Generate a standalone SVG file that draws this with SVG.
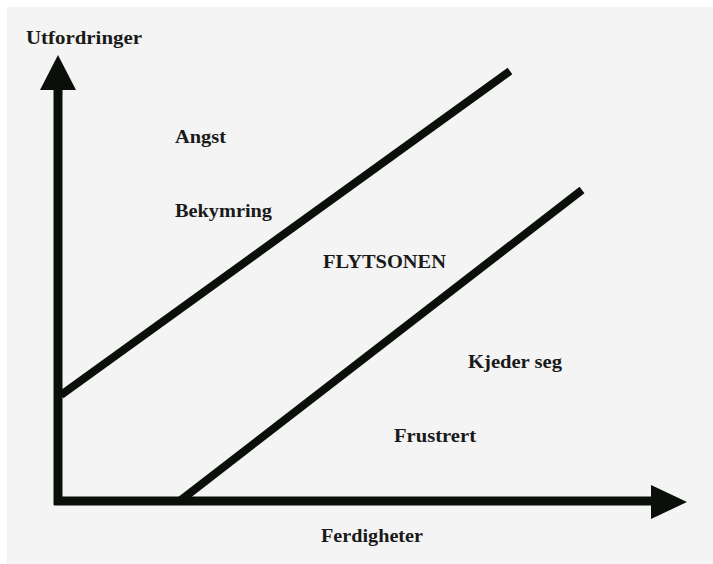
<svg xmlns="http://www.w3.org/2000/svg" width="713" height="564" viewBox="0 0 713 564">
<style>
.ax{stroke:#0a0f0a;stroke-width:9;fill:none;stroke-linecap:butt}
.dg{stroke:#0a0f0a;stroke-width:8;fill:none;stroke-linecap:butt}
.hd{fill:#0a0f0a}
.t{font-family:"Liberation Serif","Times New Roman",serif;font-weight:bold;font-size:18px;fill:#1a1a1a}
</style>
<rect x="0" y="0" width="713" height="564" fill="#ffffff"/>
<rect x="7" y="7" width="706" height="557" fill="#f4f4f4"/>
<g id="connectors">
<line class="ax" x1="58" y1="86" x2="58" y2="505"/>
<polygon class="hd" points="58,55 76,90 40,90"/>
<line class="ax" x1="54" y1="501" x2="654" y2="501"/>
<polygon class="hd" points="687,502 651,485 651,519"/>
<line class="dg" x1="61" y1="395" x2="510" y2="71"/>
<line class="dg" x1="181" y1="500" x2="582" y2="190"/>
</g>
<g id="label-utfordringer"><text class="t" x="26" y="44" textLength="116" lengthAdjust="spacingAndGlyphs">Utfordringer</text></g>
<g id="label-angst"><text class="t" x="175" y="143" textLength="51" lengthAdjust="spacingAndGlyphs">Angst</text></g>
<g id="label-bekymring"><text class="t" x="175" y="217" textLength="97" lengthAdjust="spacingAndGlyphs">Bekymring</text></g>
<g id="label-flytsonen"><text class="t" x="323" y="268" textLength="123" lengthAdjust="spacingAndGlyphs">FLYTSONEN</text></g>
<g id="label-kjeder"><text class="t" x="468" y="368" textLength="94" lengthAdjust="spacingAndGlyphs">Kjeder seg</text></g>
<g id="label-frustrert"><text class="t" x="394" y="442" textLength="82" lengthAdjust="spacingAndGlyphs">Frustrert</text></g>
<g id="label-ferdigheter"><text class="t" x="321" y="542" textLength="102" lengthAdjust="spacingAndGlyphs">Ferdigheter</text></g>
</svg>
